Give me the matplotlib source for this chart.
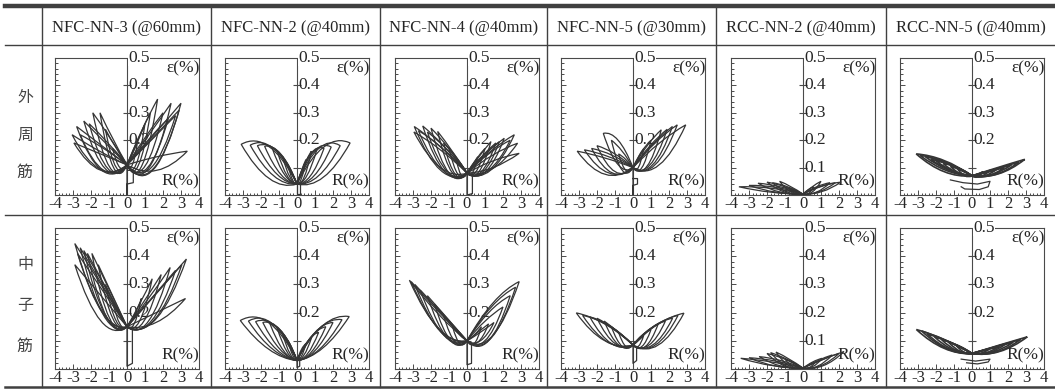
import matplotlib
matplotlib.use("Agg")
import matplotlib.pyplot as plt
from matplotlib.path import Path
from matplotlib.patches import PathPatch
from matplotlib.ticker import MultipleLocator, FixedLocator, FixedFormatter

plt.rcParams["font.family"] = ["Liberation Serif", "DejaVu Serif"]
plt.rcParams["axes.unicode_minus"] = False

INK = "#353535"

COLUMNS = ["NFC-NN-3 (@60mm)", "NFC-NN-2 (@40mm)", "NFC-NN-4 (@40mm)",
           "NFC-NN-5 (@30mm)", "RCC-NN-2 (@40mm)", "RCC-NN-5 (@40mm)"]
ROWS = ["外周筋", "中子筋"]
X_TICKS = [-4, -3, -2, -1, 0, 1, 2, 3, 4]
X_TICK_LABELS = ["-4", "-3", "-2", "-1", "0", "1", "2", "3", "4"]
AXIS_TICKS = [0.1, 0.2, 0.3, 0.4]
AXIS_LABELS = ["0.1", "0.2", "0.3", "0.4"]
SHOW_01 = [False, False, False, False, True, False]

# each loop: (peak R, peak eps, loading-branch eps at mid R, unloading-branch eps at mid R)
NN3_OUT_BASE = (0.0, 0.11)
NN3_OUT_LOOPS = [
    (-0.8, 0.17, 0.14, 0.10), (-1.2, 0.24, 0.17, 0.10), (-1.5, 0.30, 0.20, 0.10),
    (-1.9, 0.30, 0.21, 0.10), (-2.1, 0.26, 0.19, 0.095), (-2.4, 0.27, 0.19, 0.095),
    (-2.6, 0.22, 0.17, 0.09), (-2.8, 0.25, 0.18, 0.09), (-2.95, 0.19, 0.15, 0.09),
    (-3.05, 0.22, 0.16, 0.095),
    (0.6, 0.20, 0.15, 0.11), (1.0, 0.26, 0.18, 0.11), (1.3, 0.30, 0.21, 0.11),
    (1.7, 0.35, 0.24, 0.11), (2.0, 0.30, 0.21, 0.105), (2.3, 0.28, 0.20, 0.10),
    (2.45, 0.335, 0.22, 0.10), (2.7, 0.29, 0.20, 0.10), (2.9, 0.31, 0.21, 0.095),
    (3.0, 0.335, 0.22, 0.095), (3.35, 0.16, 0.14, 0.09),
]
NN3_OUT_TAIL = [(0.0, 0.12), (0.0, 0.0), (0.0, 0.04), (0.35, 0.045), (0.35, 0.09), (0.05, 0.09)]

NN3_MID_BASE = (0.0, 0.15)
NN3_MID_LOOPS = [
    (-0.8, 0.24, 0.19, 0.16), (-1.2, 0.30, 0.22, 0.17), (-1.6, 0.37, 0.26, 0.18),
    (-1.95, 0.41, 0.28, 0.18), (-2.2, 0.41, 0.28, 0.18), (-2.4, 0.42, 0.29, 0.19),
    (-2.6, 0.43, 0.29, 0.19), (-2.75, 0.41, 0.28, 0.20), (-2.9, 0.445, 0.30, 0.21),
    (-2.9, 0.37, 0.26, 0.17),
    (0.8, 0.25, 0.19, 0.16), (1.4, 0.32, 0.23, 0.17), (1.9, 0.335, 0.24, 0.17),
    (2.4, 0.36, 0.25, 0.17), (2.7, 0.35, 0.25, 0.17), (3.05, 0.37, 0.26, 0.175),
    (3.3, 0.39, 0.27, 0.18), (3.25, 0.25, 0.20, 0.165),
]
NN3_MID_TAIL = [(0.0, 0.15), (0.0, 0.01), (0.3, 0.02), (0.3, 0.14)]

NN2_OUT_BASE = (0.0, 0.04)
NN2_OUT_LOOPS = [
    (-0.5, 0.11, 0.075, 0.055), (-0.8, 0.14, 0.10, 0.065), (-1.1, 0.16, 0.115, 0.07),
    (-1.4, 0.175, 0.13, 0.075), (-1.8, 0.178, 0.15, 0.075), (-2.2, 0.18, 0.16, 0.075),
    (-2.6, 0.182, 0.17, 0.07), (-3.1, 0.185, 0.177, 0.06),
    (0.5, 0.13, 0.09, 0.06), (0.8, 0.16, 0.11, 0.065), (1.1, 0.165, 0.13, 0.07),
    (1.5, 0.17, 0.15, 0.07), (1.9, 0.175, 0.16, 0.07), (2.4, 0.18, 0.17, 0.07),
    (2.95, 0.19, 0.175, 0.065),
]
NN2_OUT_TAIL = [(0.0, 0.05), (0.0, 0.005), (0.15, 0.005), (0.15, 0.04)]

NN2_MID_BASE = (0.0, 0.03)
NN2_MID_LOOPS = [
    (-0.5, 0.10, 0.07, 0.05), (-0.8, 0.125, 0.09, 0.055), (-1.1, 0.145, 0.105, 0.06),
    (-1.5, 0.16, 0.125, 0.065), (-1.9, 0.165, 0.14, 0.07), (-2.3, 0.168, 0.15, 0.07),
    (-2.7, 0.17, 0.16, 0.07), (-3.15, 0.172, 0.165, 0.07),
    (0.5, 0.09, 0.07, 0.045), (0.8, 0.11, 0.08, 0.05), (1.2, 0.13, 0.10, 0.055),
    (1.6, 0.15, 0.115, 0.06), (2.0, 0.165, 0.13, 0.065), (2.5, 0.175, 0.145, 0.07),
    (2.9, 0.186, 0.155, 0.075),
]
NN2_MID_TAIL = [(0.0, 0.03), (0.0, 0.005), (0.15, 0.01), (0.15, 0.04)]

NN4_OUT_BASE = (0.0, 0.08)
NN4_OUT_LOOPS = [
    (-0.6, 0.13, 0.11, 0.07), (-1.0, 0.17, 0.13, 0.075), (-1.3, 0.19, 0.14, 0.075),
    (-1.63, 0.232, 0.16, 0.08), (-2.0, 0.244, 0.17, 0.08), (-2.2, 0.23, 0.165, 0.085),
    (-2.46, 0.252, 0.175, 0.085), (-2.7, 0.235, 0.17, 0.09), (-2.93, 0.25, 0.175, 0.09),
    (-2.95, 0.23, 0.165, 0.10),
    (0.6, 0.14, 0.11, 0.08), (1.0, 0.17, 0.13, 0.085), (1.33, 0.195, 0.14, 0.085),
    (1.6, 0.19, 0.14, 0.085), (1.8, 0.195, 0.145, 0.085), (2.07, 0.207, 0.15, 0.085),
    (2.4, 0.20, 0.15, 0.09), (2.63, 0.22, 0.16, 0.09), (2.81, 0.189, 0.145, 0.095),
    (2.9, 0.152, 0.125, 0.10),
]
NN4_OUT_TAIL = [(0.0, 0.08), (0.0, 0.0), (0.3, 0.005), (0.3, 0.07)]

NN4_MID_BASE = (0.0, 0.10)
NN4_MID_LOOPS = [
    (-0.8, 0.15, 0.12, 0.09), (-1.3, 0.19, 0.14, 0.095), (-1.8, 0.23, 0.165, 0.10),
    (-2.2, 0.26, 0.18, 0.11), (-2.6, 0.28, 0.19, 0.12), (-2.9, 0.30, 0.20, 0.13),
    (-3.1, 0.31, 0.20, 0.14), (-3.2, 0.315, 0.195, 0.145),
    (0.8, 0.15, 0.12, 0.09), (1.2, 0.16, 0.13, 0.095), (1.5, 0.165, 0.13, 0.10),
    (2.0, 0.22, 0.17, 0.10), (2.4, 0.26, 0.20, 0.10), (2.7, 0.29, 0.22, 0.11),
    (2.9, 0.31, 0.235, 0.12),
]
NN4_MID_TAIL = [(0.0, 0.10), (0.0, 0.015), (0.25, 0.02), (0.25, 0.09)]

NN5_OUT_BASE = (0.0, 0.10)
NN5_OUT_LOOPS = [
    (-0.8, 0.15, 0.13, 0.09), (-1.2, 0.20, 0.16, 0.09), (-1.65, 0.225, 0.20, 0.11),
    (-2.0, 0.18, 0.15, 0.085), (-2.3, 0.17, 0.145, 0.08), (-2.7, 0.165, 0.14, 0.08),
    (-3.1, 0.16, 0.135, 0.075),
    (0.6, 0.17, 0.14, 0.10), (1.0, 0.20, 0.16, 0.10), (1.57, 0.238, 0.18, 0.105),
    (1.9, 0.24, 0.18, 0.11), (2.19, 0.25, 0.185, 0.11), (2.46, 0.256, 0.19, 0.11),
    (2.93, 0.256, 0.19, 0.11),
]
NN5_OUT_TAIL = [(0.0, 0.10), (0.0, 0.0), (0.0, 0.035), (0.25, 0.04), (0.25, 0.06), (0.0, 0.06)]

NN5_MID_BASE = (0.0, 0.085)
NN5_MID_LOOPS = [
    (-0.8, 0.13, 0.11, 0.08), (-1.2, 0.15, 0.12, 0.08), (-1.6, 0.17, 0.13, 0.085),
    (-2.0, 0.18, 0.14, 0.09), (-2.4, 0.185, 0.15, 0.09), (-2.8, 0.19, 0.155, 0.095),
    (-3.15, 0.199, 0.16, 0.10),
    (0.6, 0.12, 0.10, 0.08), (1.0, 0.14, 0.12, 0.08), (1.4, 0.16, 0.13, 0.08),
    (1.8, 0.17, 0.14, 0.085), (2.2, 0.18, 0.15, 0.085), (2.5, 0.19, 0.155, 0.085),
    (2.83, 0.198, 0.16, 0.085),
]
NN5_MID_TAIL = [(0.0, 0.085), (0.0, 0.02), (0.2, 0.03), (0.2, 0.08)]

RC2_OUT_BASE = (0.0, 0.003)
RC2_OUT_LOOPS = [
    (-0.8, 0.025, 0.015, 0.005), (-1.3, 0.05, 0.03, 0.01), (-1.7, 0.045, 0.03, 0.01),
    (-2.0, 0.047, 0.03, 0.01), (-2.5, 0.043, 0.03, 0.01), (-3.0, 0.035, 0.028, 0.01),
    (-3.56, 0.03, 0.025, 0.01),
    (0.6, 0.03, 0.02, 0.005), (1.0, 0.05, 0.03, 0.01), (1.5, 0.045, 0.03, 0.01),
    (1.8, 0.045, 0.03, 0.012), (2.1, 0.047, 0.032, 0.012),
]
RC2_OUT_TAIL = []

RC2_MID_BASE = (0.0, 0.003)
RC2_MID_LOOPS = [
    (-1.0, 0.035, 0.02, 0.005), (-1.5, 0.06, 0.035, 0.01), (-1.8, 0.058, 0.035, 0.01),
    (-2.0, 0.055, 0.035, 0.01), (-2.44, 0.044, 0.03, 0.01), (-3.0, 0.04, 0.028, 0.01),
    (-3.46, 0.038, 0.025, 0.012),
    (0.7, 0.025, 0.015, 0.005), (1.07, 0.038, 0.025, 0.008), (1.63, 0.05, 0.03, 0.01),
    (2.0, 0.055, 0.032, 0.012), (2.28, 0.062, 0.035, 0.012),
]
RC2_MID_TAIL = []

RC5_OUT_BASE = (0.0, 0.07)
RC5_OUT_LOOPS = [
    (-3.1, 0.15, 0.126, 0.085), (-2.9, 0.145, 0.12, 0.09), (-2.6, 0.14, 0.115, 0.09),
    (-2.3, 0.13, 0.11, 0.09), (-2.0, 0.125, 0.105, 0.085), (-1.6, 0.115, 0.10, 0.08),
    (-1.2, 0.105, 0.09, 0.075), (-0.8, 0.095, 0.085, 0.07),
    (2.93, 0.13, 0.101, 0.077), (2.6, 0.12, 0.095, 0.075), (2.2, 0.11, 0.09, 0.075),
    (1.8, 0.10, 0.085, 0.07), (1.4, 0.095, 0.08, 0.07), (1.0, 0.09, 0.078, 0.068),
    (0.6, 0.085, 0.075, 0.066),
]
RC5_OUT_TAIL = [(-1.2, 0.055), (-0.5, 0.045), (0.3, 0.04), (1.0, 0.05), (0.9, 0.03),
                (0.4, 0.02), (-0.4, 0.022), (-0.6, 0.03)]

RC5_MID_BASE = (0.0, 0.055)
RC5_MID_LOOPS = [
    (-3.09, 0.14, 0.105, 0.073), (-2.8, 0.135, 0.10, 0.072), (-2.5, 0.125, 0.095, 0.07),
    (-2.1, 0.115, 0.09, 0.068), (-1.7, 0.105, 0.085, 0.065), (-1.3, 0.095, 0.08, 0.062),
    (-0.9, 0.085, 0.072, 0.06),
    (3.07, 0.114, 0.085, 0.062), (2.7, 0.105, 0.08, 0.06), (2.3, 0.095, 0.075, 0.06),
    (1.9, 0.09, 0.072, 0.058), (1.5, 0.08, 0.068, 0.057), (1.0, 0.072, 0.064, 0.056),
]
RC5_MID_TAIL = [(-0.6, 0.035), (0.2, 0.028), (1.0, 0.035), (0.9, 0.025), (0.3, 0.018), (-0.3, 0.022)]

PANELS = [
    [(NN3_OUT_BASE, NN3_OUT_LOOPS, NN3_OUT_TAIL), (NN2_OUT_BASE, NN2_OUT_LOOPS, NN2_OUT_TAIL),
     (NN4_OUT_BASE, NN4_OUT_LOOPS, NN4_OUT_TAIL), (NN5_OUT_BASE, NN5_OUT_LOOPS, NN5_OUT_TAIL),
     (RC2_OUT_BASE, RC2_OUT_LOOPS, RC2_OUT_TAIL), (RC5_OUT_BASE, RC5_OUT_LOOPS, RC5_OUT_TAIL)],
    [(NN3_MID_BASE, NN3_MID_LOOPS, NN3_MID_TAIL), (NN2_MID_BASE, NN2_MID_LOOPS, NN2_MID_TAIL),
     (NN4_MID_BASE, NN4_MID_LOOPS, NN4_MID_TAIL), (NN5_MID_BASE, NN5_MID_LOOPS, NN5_MID_TAIL),
     (RC2_MID_BASE, RC2_MID_LOOPS, RC2_MID_TAIL), (RC5_MID_BASE, RC5_MID_LOOPS, RC5_MID_TAIL)],
]


def loop_path(base, loop):
    r0, e0 = base
    rp, ep, eu, el = loop
    rm, em = (r0 + rp) / 2, (e0 + ep) / 2
    verts = [(r0, e0), (rm, 2 * eu - em), (rp, ep), (rm, 2 * el - em), (r0, e0)]
    codes = [Path.MOVETO, Path.CURVE3, Path.CURVE3, Path.CURVE3, Path.CURVE3]
    return Path(verts, codes)


W, H = 1055, 389
fig = plt.figure(figsize=(W / 100, H / 100), dpi=100)

# table frame drawn in pixel space
tab = fig.add_axes([0, 0, 1, 1])
tab.set_xlim(0, W)
tab.set_ylim(H, 0)
tab.axis("off")
col_edges = [42, 211, 380, 547, 716, 886, 1055]
tab.plot([5, W], [5.5, 5.5], color="#404040", lw=3.2)
for y, lw in [(45, 1.0), (215, 1.0), (387, 1.8)]:
    tab.plot([5, W], [y, y], color="#404040", lw=lw)
for x in col_edges[:-1]:
    tab.plot([x, x], [8, 387], color="#404040", lw=1.0)
for i, name in enumerate(COLUMNS):
    tab.text((col_edges[i] + col_edges[i + 1]) / 2, 28, name, ha="center", va="center",
             fontsize=12, color="#262626")
row_chars = [[97, 135, 172], [265, 305, 346]]
for r, label in enumerate(ROWS):
    for ch, y in zip(label, row_chars[r]):
        tab.text(25, y, ch, ha="center", va="center", fontsize=11.5, color="#454545",
                 family=["Noto Sans CJK SC", "DejaVu Sans"])

box_left = [55, 225, 395, 561, 731, 900]
box_w = 144
row_box = [(58, 195), (228, 369)]

for r in range(2):
    top, bot = row_box[r]
    for c in range(6):
        ax = fig.add_axes([box_left[c] / W, 1 - bot / H, box_w / W, (bot - top) / H])
        ax.set_xlim(-4, 4)
        ax.set_ylim(0, 0.5)
        for s in ax.spines.values():
            s.set_color("#4a4a4a")
            s.set_linewidth(0.8)
        ax.xaxis.set_major_locator(FixedLocator(X_TICKS))
        ax.xaxis.set_major_formatter(FixedFormatter(X_TICK_LABELS))
        ax.xaxis.set_minor_locator(MultipleLocator(0.2))
        ax.yaxis.set_major_locator(MultipleLocator(0.1))
        ax.yaxis.set_minor_locator(MultipleLocator(0.02))
        ax.tick_params(which="both", direction="in", top=False, right=False,
                       color="#4a4a4a", width=0.7, labelleft=False)
        ax.tick_params(which="major", length=3.5)
        ax.tick_params(which="minor", length=1.8)
        ax.tick_params(axis="x", labelsize=12, pad=1.0, labelcolor="#262626")

        ax.axvline(0, color="#4a4a4a", lw=0.8, zorder=1)
        ax.plot([0] * len(AXIS_TICKS), AXIS_TICKS, ls="none", marker="_", ms=6,
                mew=0.8, color="#4a4a4a", zorder=1)
        for t, lab in zip(AXIS_TICKS, AXIS_LABELS):
            if t < 0.15 and not SHOW_01[c]:
                continue
            ax.text(0.1, t, lab, ha="left", va="center", fontsize=12.5, color="#262626", zorder=1)
        ax.text(0.06, 0.5, "0.5", ha="left", va="center", fontsize=12.5, color="#262626",
                zorder=6, clip_on=False,
                bbox=dict(facecolor="white", edgecolor="none", pad=0.3))
        ax.text(4.02, 0.462, "ε(%)", ha="right", va="center", fontsize=12.5, color="#262626", zorder=1)
        ax.text(4.02, 0.05, "R(%)", ha="right", va="center", fontsize=12.5, color="#262626", zorder=1)

        base, loops, tail = PANELS[r][c]
        lw = 1.2 if c == 5 else 0.9
        for lp in loops:
            ax.add_patch(PathPatch(loop_path(base, lp), facecolor="none", edgecolor=INK,
                                   lw=lw, zorder=3))
        if tail:
            ax.plot([p[0] for p in tail], [p[1] for p in tail], color=INK, lw=0.9, zorder=3)

fig.savefig("out.png", dpi=100)
